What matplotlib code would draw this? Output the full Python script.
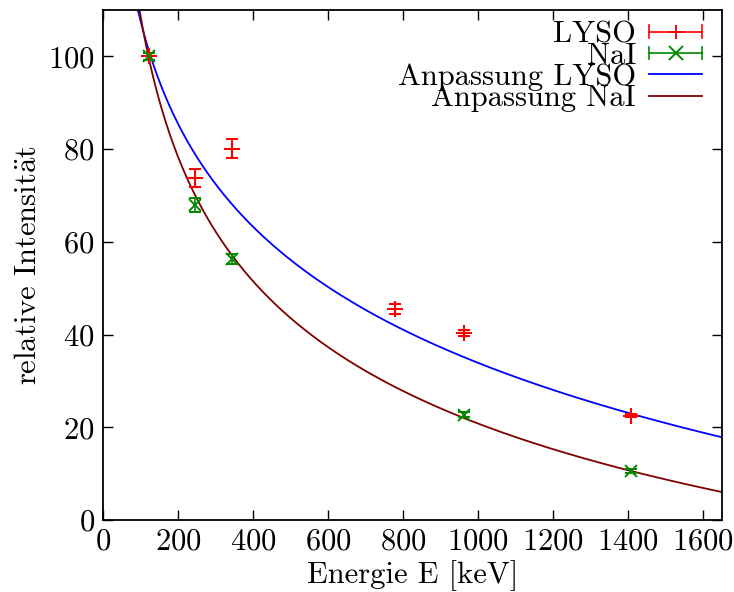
import numpy as np
import matplotlib
matplotlib.use('Agg')
import matplotlib.pyplot as plt
from matplotlib.lines import Line2D
from matplotlib.legend_handler import HandlerBase

# Messwerte (Eu-152 Linien)
energy_lyso = [122, 245, 344, 779, 964, 1408]
int_lyso = [100.0, 73.8, 80.1, 45.6, 40.3, 22.5]
err_lyso = [0.8, 2.0, 2.0, 1.1, 0.7, 0.3]

energy_nai = [122, 245, 344, 964, 1408]
int_nai = [100.0, 68.0, 56.3, 22.7, 10.6]
err_nai = [0.7, 1.5, 1.0, 0.5, 0.4]

# Fitparameter
lyso_a, lyso_b = 255.3, 32.05           # a - b*ln(E)
nai_a, nai_b, nai_c = 594.0, 0.18, -150.5  # a*E^-b + c

x_ticks = [0, 200, 400, 600, 800, 1000, 1200, 1400, 1600]
y_ticks = [0, 20, 40, 60, 80, 100]

plt.rcParams['font.family'] = ['cmr10', 'DejaVu Serif']
plt.rcParams['mathtext.fontset'] = 'cm'
plt.rcParams['axes.formatter.use_mathtext'] = True

RED = '#ff0000'
GREEN = '#008a00'
BLUE = '#0000ff'
DARKRED = '#800000'
FS = 22


class HErrHandler(HandlerBase):
    """gnuplot-style legend sample: horizontal bar with end caps and a marker"""
    def __init__(self, marker, color):
        super().__init__()
        self.marker = marker
        self.color = color

    def create_artists(self, legend, orig_handle, xdescent, ydescent,
                       width, height, fontsize, trans):
        x0, x1 = -xdescent, width - xdescent
        y = height / 2 - ydescent
        c = 4.5
        arts = [
            Line2D([x0, x1], [y, y], color=self.color, lw=1.2),
            Line2D([x0, x0], [y - c, y + c], color=self.color, lw=1.2),
            Line2D([x1, x1], [y - c, y + c], color=self.color, lw=1.2),
            Line2D([(x0 + x1) / 2], [y], color=self.color, marker=self.marker,
                   ms=10, mew=1.4, ls='none'),
        ]
        for a in arts:
            a.set_transform(trans)
        return arts


fig = plt.figure(figsize=(7.34, 5.92), dpi=100)
ax = fig.add_axes([0.1403, 0.1216, 0.8430, 0.8614])

E = np.linspace(1, 1650, 800)
ax.plot(E, lyso_a - lyso_b * np.log(E), color=BLUE, lw=1.3)
ax.plot(E, nai_a * E ** (-nai_b) + nai_c, color=DARKRED, lw=1.3)

ax.errorbar(energy_lyso, int_lyso, yerr=err_lyso, fmt='+', color=RED,
            ms=11, mew=1.5, elinewidth=1.2, capsize=4.5, capthick=1.2)
ax.errorbar(energy_nai, int_nai, yerr=err_nai, fmt='x', color=GREEN,
            ms=9, mew=1.4, elinewidth=1.2, capsize=4.5, capthick=1.2)

ax.set_xlim(0, 1650)
ax.set_ylim(0, 110)
ax.set_xticks(x_ticks)
ax.set_yticks(y_ticks)
ax.tick_params(direction='in', length=7, width=1, top=True, right=True,
               labelsize=FS, pad=6)
for s in ax.spines.values():
    s.set_linewidth(1.3)

ax.set_xlabel('Energie E [keV]', fontsize=FS, labelpad=3)
ax.set_ylabel(r'relative Intensit$\ddot{\mathrm{a}}$t', fontsize=FS, labelpad=4)

h1 = Line2D([], [])
h2 = Line2D([], [])
h3 = Line2D([], [], color=BLUE, lw=1.3)
h4 = Line2D([], [], color=DARKRED, lw=1.3)
ax.legend([h1, h2, h3, h4],
          ['LYSO', 'NaI', 'Anpassung LYSO', 'Anpassung NaI'],
          handler_map={h1: HErrHandler('+', RED), h2: HErrHandler('x', GREEN)},
          loc='upper right', bbox_to_anchor=(0.976, 0.988), frameon=False,
          markerfirst=False, fontsize=FS, labelspacing=-0.2,
          handlelength=1.75, handletextpad=0.42, borderaxespad=0.0, borderpad=0.15)

fig.savefig('out.png', dpi=100)
